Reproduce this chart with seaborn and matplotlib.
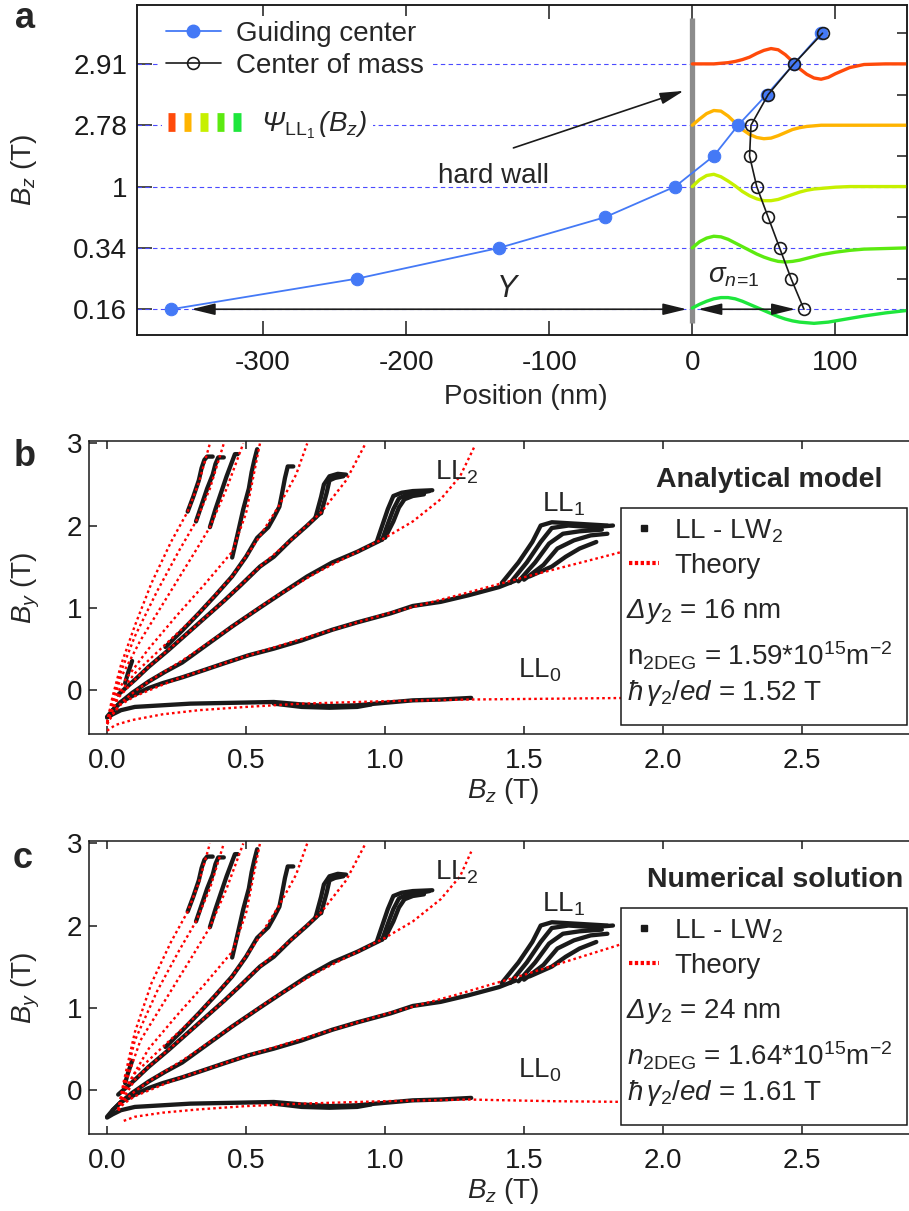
import numpy as np
import pandas as pd
import matplotlib
matplotlib.use('Agg')
import matplotlib.pyplot as plt
import matplotlib.transforms as mtransforms
import seaborn as sns
from matplotlib.lines import Line2D
from matplotlib.legend_handler import HandlerTuple
from matplotlib.patches import Rectangle

sns.set_theme(style='white')
plt.rcParams['font.family'] = ['Liberation Sans', 'DejaVu Sans']
plt.rcParams['mathtext.fontset'] = 'custom'
plt.rcParams['mathtext.rm'] = 'Liberation Sans'
plt.rcParams['mathtext.it'] = 'Liberation Sans:italic'
plt.rcParams['mathtext.bf'] = 'Liberation Sans:bold'
plt.rcParams['axes.unicode_minus'] = False

# ------------------------------------------------------------------ panel a data
level_labels = ['0.16', '0.34', '1', '2.78', '2.91']
level_pos = [0, 1, 2, 3, 4]
half_levels = [0.5, 1.5, 2.5, 3.5, 4.5]

gc_pos = [-364, -234, -135, -61, -12, 15, 32, 52, 71, 90]
gc_level = [0, 0.5, 1, 1.5, 2, 2.5, 3, 3.5, 4, 4.5]
com_pos = [78, 69, 61, 53, 45, 40, 41, 53, 71, 91]
com_level = [0, 0.5, 1, 1.5, 2, 2.5, 3, 3.5, 4, 4.5]

wave_x = [0, 5, 10, 15, 20, 25, 30, 35, 40, 45, 50, 55, 60, 65, 70, 75, 80,
          85, 90, 95, 100, 110, 120, 135, 150]
psi_291 = [0, 0, 0, 0, 0.01, 0.02, 0.04, 0.07, 0.11, 0.17, 0.22, 0.25, 0.23, 0.15,
           0.04, -0.08, -0.17, -0.23, -0.25, -0.22, -0.16, -0.06, -0.01, 0, 0]
psi_278 = [0, 0.1, 0.19, 0.24, 0.23, 0.15, 0.04, -0.07, -0.15, -0.2, -0.22, -0.21,
           -0.17, -0.12, -0.07, -0.04, -0.02, -0.01, 0, 0, 0, 0, 0, 0, 0]
psi_100 = [0, 0.11, 0.18, 0.2, 0.16, 0.09, 0.01, -0.08, -0.15, -0.2, -0.23, -0.23,
           -0.21, -0.17, -0.13, -0.09, -0.06, -0.04, -0.03, -0.02, -0.01, 0, 0, 0, 0]
psi_034 = [0, 0.1, 0.16, 0.19, 0.18, 0.14, 0.08, 0.02, -0.04, -0.1, -0.15, -0.19,
           -0.22, -0.23, -0.22, -0.2, -0.17, -0.14, -0.11, -0.09, -0.07, -0.04,
           -0.02, -0.01, 0]
psi_016 = [0.02, 0.08, 0.13, 0.17, 0.19, 0.19, 0.17, 0.13, 0.08, 0.03, -0.02, -0.07,
           -0.12, -0.16, -0.19, -0.21, -0.22, -0.23, -0.22, -0.21, -0.19, -0.15,
           -0.11, -0.06, -0.02]
wave_colors = ['#1EE63C', '#5CEA10', '#C6F000', '#FFB400', '#FF4A0A']

# ------------------------------------------------------------------ panel b/c experimental traces
ll0_bz = [0.0, 0.02, 0.05, 0.1, 0.2, 0.3, 0.45, 0.6, 0.7, 0.8, 0.9, 1.0, 1.1, 1.2, 1.31]
ll0_by = [-0.34, -0.3, -0.25, -0.21, -0.19, -0.17, -0.16, -0.15, -0.18, -0.2, -0.19,
          -0.16, -0.13, -0.12, -0.1]
ll0b_bz = [0.6, 0.7, 0.8, 0.9, 0.95]
ll0b_by = [-0.17, -0.21, -0.22, -0.21, -0.18]
ll1_bz = [0.0, 0.02, 0.05, 0.1, 0.15, 0.2, 0.27, 0.35, 0.42, 0.51, 0.6, 0.7, 0.81,
          0.9, 1.02, 1.1, 1.2, 1.3, 1.41, 1.47]
ll1_by = [-0.33, -0.25, -0.15, -0.06, 0.02, 0.08, 0.15, 0.24, 0.32, 0.42, 0.5, 0.6,
          0.73, 0.82, 0.93, 1.02, 1.07, 1.15, 1.25, 1.33]
ll1a_bz = [1.42, 1.48, 1.53, 1.56, 1.6, 1.7, 1.8]
ll1a_by = [1.3, 1.55, 1.8, 2.0, 2.04, 2.02, 2.0]
ll1b_bz = [1.45, 1.51, 1.56, 1.6, 1.66, 1.75, 1.82]
ll1b_by = [1.3, 1.55, 1.8, 1.97, 2.0, 1.98, 2.0]
ll1c_bz = [1.48, 1.54, 1.59, 1.64, 1.7, 1.78]
ll1c_by = [1.32, 1.55, 1.78, 1.9, 1.93, 1.95]
ll1d_bz = [1.5, 1.57, 1.62, 1.68, 1.74, 1.8]
ll1d_by = [1.34, 1.52, 1.72, 1.82, 1.88, 1.9]
ll1e_bz = [1.52, 1.6, 1.65, 1.7, 1.76]
ll1e_by = [1.38, 1.5, 1.62, 1.72, 1.8]
ll2_bz = [0.02, 0.05, 0.09, 0.15, 0.21, 0.27, 0.36, 0.45, 0.55, 0.63, 0.72, 0.81, 0.9, 0.99]
ll2_by = [-0.25, -0.15, -0.04, 0.1, 0.22, 0.33, 0.55, 0.77, 1.0, 1.18, 1.38, 1.55, 1.68, 1.83]
ll2a_bz = [0.97, 0.99, 1.01, 1.03, 1.06, 1.1, 1.17]
ll2a_by = [1.8, 2.0, 2.2, 2.36, 2.4, 2.42, 2.43]
ll2b_bz = [0.99, 1.01, 1.03, 1.05, 1.08, 1.13, 1.16]
ll2b_by = [1.83, 2.02, 2.2, 2.33, 2.38, 2.4, 2.42]
ll2c_bz = [1.0, 1.03, 1.05, 1.07, 1.1, 1.14]
ll2c_by = [1.85, 2.05, 2.22, 2.32, 2.36, 2.38]
t3_bz = [0.04, 0.1, 0.15, 0.22, 0.3, 0.36, 0.42, 0.48, 0.55, 0.6, 0.66, 0.72, 0.77]
t3_by = [-0.06, 0.12, 0.28, 0.48, 0.72, 0.9, 1.08, 1.27, 1.5, 1.62, 1.82, 2.0, 2.16]
t3a_bz = [0.75, 0.77, 0.78, 0.8, 0.83, 0.86]
t3a_by = [2.1, 2.35, 2.5, 2.6, 2.63, 2.62]
t3b_bz = [0.77, 0.79, 0.8, 0.82, 0.85]
t3b_by = [2.15, 2.4, 2.55, 2.58, 2.6]
ta_bz = [0.21, 0.27, 0.33, 0.39, 0.45, 0.5, 0.54, 0.58, 0.6, 0.62, 0.63, 0.64, 0.65, 0.67]
ta_by = [0.52, 0.72, 0.93, 1.15, 1.38, 1.62, 1.85, 1.98, 2.1, 2.23, 2.4, 2.58, 2.72, 2.72]
s1_bz = [0.29, 0.31, 0.33, 0.34, 0.35, 0.36, 0.38]
s1_by = [2.17, 2.35, 2.55, 2.7, 2.8, 2.84, 2.84]
s2_bz = [0.32, 0.34, 0.36, 0.38, 0.39, 0.4, 0.42]
s2_by = [2.05, 2.25, 2.45, 2.62, 2.75, 2.83, 2.83]
s3_bz = [0.37, 0.39, 0.41, 0.43, 0.45, 0.46, 0.47]
s3_by = [1.98, 2.2, 2.4, 2.6, 2.78, 2.87, 2.87]
s4_bz = [0.45, 0.47, 0.49, 0.51, 0.52, 0.53, 0.54]
s4_by = [1.61, 1.9, 2.2, 2.45, 2.65, 2.8, 2.93]
sm_bz = [0.065, 0.075, 0.085, 0.09]
sm_by = [0.08, 0.2, 0.3, 0.35]

# ------------------------------------------------------------------ theory curves, panel b
thb_ll0_bz = [0.0, 0.03, 0.09, 0.2, 0.33, 0.5, 0.7, 1.0, 1.3, 1.6, 1.9, 2.2, 2.5, 2.88]
thb_ll0_by = [-0.5, -0.43, -0.37, -0.3, -0.25, -0.21, -0.17, -0.14, -0.12, -0.11,
              -0.1, -0.1, -0.09, -0.09]
thb_ll1_bz = [0.0, 0.02, 0.05, 0.1, 0.25, 0.5, 0.75, 1.0, 1.25, 1.5, 1.82, 2.2]
thb_ll1_by = [-0.42, -0.3, -0.18, -0.08, 0.13, 0.41, 0.67, 0.92, 1.14, 1.37, 1.65, 2.0]
thb_ll2_bz = [0.0, 0.02, 0.05, 0.1, 0.15, 0.3, 0.45, 0.6, 0.75, 0.9, 1.0, 1.1, 1.2, 1.27, 1.32]
thb_ll2_by = [-0.42, -0.3, -0.16, -0.02, 0.1, 0.42, 0.77, 1.12, 1.42, 1.68, 1.85,
              2.05, 2.32, 2.6, 2.95]
thb_t3_bz = [0.0, 0.02, 0.04, 0.1, 0.15, 0.3, 0.42, 0.55, 0.66, 0.77, 0.86, 0.93]
thb_t3_by = [-0.4, -0.25, -0.1, 0.12, 0.28, 0.72, 1.08, 1.5, 1.82, 2.16, 2.55, 3.0]
thb_ta_bz = [0.0, 0.02, 0.05, 0.1, 0.2, 0.33, 0.45, 0.54, 0.62, 0.68, 0.72]
thb_ta_by = [-0.4, -0.22, -0.02, 0.2, 0.52, 0.93, 1.38, 1.82, 2.25, 2.62, 3.0]
thb_s4_bz = [0.0, 0.02, 0.05, 0.15, 0.25, 0.35, 0.45, 0.5, 0.55]
thb_s4_by = [-0.4, -0.2, 0.05, 0.5, 0.9, 1.28, 1.68, 2.15, 3.0]
thb_s3_bz = [0.0, 0.02, 0.05, 0.12, 0.22, 0.32, 0.37, 0.43, 0.49]
thb_s3_by = [-0.4, -0.15, 0.15, 0.6, 1.15, 1.7, 1.98, 2.45, 3.0]
thb_s2_bz = [0.0, 0.02, 0.05, 0.1, 0.18, 0.26, 0.32, 0.37, 0.42]
thb_s2_by = [-0.4, -0.12, 0.22, 0.65, 1.2, 1.7, 2.05, 2.45, 3.0]
thb_s1_bz = [0.0, 0.02, 0.05, 0.1, 0.16, 0.23, 0.29, 0.33, 0.37]
thb_s1_by = [-0.4, -0.08, 0.3, 0.78, 1.3, 1.8, 2.17, 2.52, 3.0]

# ------------------------------------------------------------------ theory curves, panel c
thc_ll0_bz = [0.06, 0.1, 0.2, 0.33, 0.5, 0.7, 1.0, 1.3, 1.6, 1.9, 2.2, 2.5, 2.88]
thc_ll0_by = [-0.38, -0.33, -0.28, -0.24, -0.2, -0.17, -0.14, -0.12, -0.14, -0.15,
              -0.16, -0.17, -0.18]
thc_ll1_bz = [0.04, 0.06, 0.1, 0.25, 0.5, 0.75, 1.0, 1.25, 1.5, 1.82, 2.1]
thc_ll1_by = [-0.25, -0.17, -0.08, 0.13, 0.41, 0.67, 0.92, 1.15, 1.4, 1.74, 2.05]
thc_ll2_bz = [0.04, 0.06, 0.1, 0.15, 0.3, 0.45, 0.6, 0.75, 0.9, 1.0, 1.1, 1.2, 1.27, 1.31]
thc_ll2_by = [-0.25, -0.14, -0.02, 0.1, 0.42, 0.77, 1.12, 1.42, 1.68, 1.85, 2.05,
              2.32, 2.6, 2.9]
thc_t3_bz = [0.04, 0.06, 0.1, 0.15, 0.3, 0.42, 0.55, 0.66, 0.77, 0.86, 0.93]
thc_t3_by = [-0.25, -0.1, 0.12, 0.28, 0.72, 1.08, 1.5, 1.82, 2.16, 2.55, 3.0]
thc_ta_bz = [0.04, 0.06, 0.1, 0.2, 0.33, 0.45, 0.54, 0.62, 0.68, 0.72]
thc_ta_by = [-0.25, -0.05, 0.2, 0.52, 0.93, 1.38, 1.82, 2.25, 2.62, 3.0]
thc_s4_bz = [0.04, 0.06, 0.15, 0.25, 0.35, 0.45, 0.5, 0.55]
thc_s4_by = [-0.25, -0.02, 0.5, 0.9, 1.28, 1.68, 2.15, 3.0]
thc_s3_bz = [0.04, 0.06, 0.12, 0.22, 0.32, 0.37, 0.43, 0.49]
thc_s3_by = [-0.25, 0.02, 0.6, 1.15, 1.7, 1.98, 2.45, 3.0]
thc_s2_bz = [0.04, 0.06, 0.1, 0.18, 0.26, 0.32, 0.37, 0.42]
thc_s2_by = [-0.25, 0.05, 0.6, 1.2, 1.7, 2.05, 2.45, 3.0]
thc_s1_bz = [0.04, 0.06, 0.1, 0.16, 0.23, 0.29, 0.33, 0.37]
thc_s1_by = [-0.25, 0.1, 0.7, 1.3, 1.8, 2.17, 2.52, 3.0]

bc_xticks = [0.0, 0.5, 1.0, 1.5, 2.0, 2.5]
bc_xticklabels = ['0.0', '0.5', '1.0', '1.5', '2.0', '2.5']
bc_yticks = [0, 1, 2, 3]
a_xticks = [-300, -200, -100, 0, 100]


def traces_frame(traces):
    rows = []
    for name, (xs, ys) in traces.items():
        for i, (x, y) in enumerate(zip(xs, ys)):
            rows.append((name, i, x, y))
    return pd.DataFrame(rows, columns=['trace', 'i', 'Bz', 'By'])


exp_df = traces_frame({
    'll0': (ll0_bz, ll0_by), 'll0b': (ll0b_bz, ll0b_by),
    'll1': (ll1_bz, ll1_by), 'll1a': (ll1a_bz, ll1a_by), 'll1b': (ll1b_bz, ll1b_by),
    'll1c': (ll1c_bz, ll1c_by), 'll1d': (ll1d_bz, ll1d_by), 'll1e': (ll1e_bz, ll1e_by),
    'll2': (ll2_bz, ll2_by), 'll2a': (ll2a_bz, ll2a_by), 'll2b': (ll2b_bz, ll2b_by),
    'll2c': (ll2c_bz, ll2c_by), 't3': (t3_bz, t3_by), 't3a': (t3a_bz, t3a_by),
    't3b': (t3b_bz, t3b_by), 'ta': (ta_bz, ta_by), 's1': (s1_bz, s1_by),
    's2': (s2_bz, s2_by), 's3': (s3_bz, s3_by), 's4': (s4_bz, s4_by),
    'sm': (sm_bz, sm_by)})
thb_df = traces_frame({
    'll0': (thb_ll0_bz, thb_ll0_by), 'll1': (thb_ll1_bz, thb_ll1_by),
    'll2': (thb_ll2_bz, thb_ll2_by), 't3': (thb_t3_bz, thb_t3_by),
    'ta': (thb_ta_bz, thb_ta_by), 's4': (thb_s4_bz, thb_s4_by),
    's3': (thb_s3_bz, thb_s3_by), 's2': (thb_s2_bz, thb_s2_by),
    's1': (thb_s1_bz, thb_s1_by)})
thc_df = traces_frame({
    'll0': (thc_ll0_bz, thc_ll0_by), 'll1': (thc_ll1_bz, thc_ll1_by),
    'll2': (thc_ll2_bz, thc_ll2_by), 't3': (thc_t3_bz, thc_t3_by),
    'ta': (thc_ta_bz, thc_ta_by), 's4': (thc_s4_bz, thc_s4_by),
    's3': (thc_s3_bz, thc_s3_by), 's2': (thc_s2_bz, thc_s2_by),
    's1': (thc_s1_bz, thc_s1_by)})

FS = 20
W, H = 909, 1211
fig = plt.figure(figsize=(W / 100, H / 100), dpi=100)
ax_a = fig.add_axes([137 / W, 1 - 335 / H, 770 / W, 330 / H])
ax_b = fig.add_axes([89 / W, 1 - 734 / H, 820 / W, 293 / H])
ax_c = fig.add_axes([89 / W, 1 - 1134 / H, 820 / W, 293 / H])

# ================================================================== panel a
ax = ax_a
ax.set_xlim(-388, 150)
ax.set_ylim(-0.42, 4.96)
for lv in level_pos:
    ax.axhline(lv, color='#4B4BFF', lw=0.8, ls=(0, (4, 3)), zorder=1)
ax.plot([0, 0], [-0.23, 4.75], color='#8C8C8C', lw=3.8, solid_capstyle='butt', zorder=2)
psis = [psi_016, psi_034, psi_100, psi_278, psi_291]
for lv, psi, col in zip(level_pos, psis, wave_colors):
    wdf = pd.DataFrame({'x': wave_x, 'y': np.asarray(psi) + lv})
    sns.lineplot(data=wdf, x='x', y='y', sort=False, estimator=None, color=col, lw=2.4,
                 ax=ax, zorder=3, legend=False)
gc_df = pd.DataFrame({'pos': gc_pos, 'lev': gc_level})
com_df = pd.DataFrame({'pos': com_pos, 'lev': com_level})
blue = '#4479F6'
sns.lineplot(data=gc_df, x='pos', y='lev', sort=False, estimator=None, color=blue, lw=1.3,
             marker='o', markersize=9, markeredgecolor=blue, ax=ax, zorder=4, legend=False)
sns.lineplot(data=com_df, x='pos', y='lev', sort=False, estimator=None, color='k', lw=1.2,
             marker='o', markersize=8.5, markerfacecolor='none', markeredgecolor='k',
             markeredgewidth=1.2, ax=ax, zorder=5, legend=False)

arrow_kw = dict(color='k', lw=1.2, mutation_scale=16, shrinkA=0, shrinkB=0)
ax.annotate('', xy=(-4, 0), xytext=(-350, 0),
            arrowprops=dict(arrowstyle='<|-|>,head_length=0.9,head_width=0.22', **arrow_kw),
            zorder=6)
ax.annotate('', xy=(72, 0), xytext=(4, 0),
            arrowprops=dict(arrowstyle='<|-|>,head_length=0.9,head_width=0.22', **arrow_kw),
            zorder=6)
ax.annotate('', xy=(-6, 3.56), xytext=(-125, 2.63),
            arrowprops=dict(arrowstyle='-|>,head_length=0.9,head_width=0.22', **arrow_kw),
            zorder=6)
ax.text(-178, 2.06, 'hard wall', fontsize=FS, ha='left', va='baseline', zorder=6)
ax.text(-129, 0.2, r'$Y$', fontsize=FS + 2, ha='center', va='baseline', zorder=6)
ax.text(11, 0.44, r'$\sigma_{n\!=\!1}$', fontsize=FS, ha='left', va='baseline', zorder=6)

h_gc = Line2D([], [], color=blue, lw=1.3, marker='o', ms=9, mec=blue)
h_com = Line2D([], [], color='k', lw=1.2, marker='o', ms=8.5, mfc='none', mec='k', mew=1.2)
leg1 = ax.legend([h_gc, h_com], ['Guiding center', 'Center of mass'], loc='upper left',
                 bbox_to_anchor=(0.030, 0.968), borderaxespad=0, borderpad=0.2,
                 labelspacing=0.2, handlelength=2.0, handletextpad=0.55, fontsize=FS,
                 frameon=True, facecolor='white', edgecolor='none', framealpha=1,
                 fancybox=False)
leg1.set_zorder(7)
ax.add_artist(leg1)
bars = tuple(Line2D([], [], color=c, lw=13.5, solid_capstyle='butt')
             for c in ['#FF4A0A', '#FFB400', '#C6F000', '#5CEA10', '#1EE63C'])
leg2 = ax.legend([bars], [r'Ψ$_{\mathrm{LL}_1}\,$($B_z$)'],
                 handler_map={tuple: HandlerTuple(ndivide=None, pad=0.32)},
                 loc='center left', bbox_to_anchor=(0.0325, 0.636), borderaxespad=0,
                 borderpad=0.2, handlelength=2.63, handletextpad=0.75, fontsize=FS,
                 frameon=True, facecolor='white', edgecolor='none', framealpha=1,
                 fancybox=False)
leg2.get_texts()[0].set_fontstyle('italic')
leg2.set_zorder(7)

ax.set_yticks(level_pos)
ax.set_yticklabels(level_labels)
ax.set_xticks(a_xticks)
ax.set_xticklabels([str(v) for v in a_xticks])
ax.tick_params(axis='x', direction='in', length=10, width=1.1, top=True, bottom=True,
               labelsize=FS, pad=11, colors='k')
ax.tick_params(axis='y', direction='in', length=11, width=1.1, left=True, right=False,
               labelsize=FS, pad=7, colors='k')
ax_r = ax.twinx()
ax_r.set_ylim(ax.get_ylim())
ax_r.set_yticks(half_levels)
ax_r.tick_params(axis='y', direction='in', length=7, width=1.1, right=True,
                 labelright=False, colors='k')
for a_ in (ax, ax_r):
    for sp in a_.spines.values():
        sp.set_color('k')
        sp.set_linewidth(1.1)
ax.set_xlabel('Position (nm)', fontsize=FS)
ax.xaxis.set_label_coords(0.505, -0.150)
ax.set_ylabel(r'$B_z$ (T)', fontsize=FS)
ax.yaxis.set_label_coords(-0.127, 0.5)


# ================================================================== panels b, c
def draw_bc(ax, th_df, title, title_x, dy_val, nlab, gam):
    sns.lineplot(data=exp_df, x='Bz', y='By', units='trace', estimator=None, sort=False,
                 color='k', lw=3.1, ax=ax, legend=False, zorder=2)
    sns.lineplot(data=th_df, x='Bz', y='By', units='trace', estimator=None, sort=False,
                 color='#FF0000', lw=1.7, linestyle=(0, (1.1, 1.3)), ax=ax,
                 legend=False, zorder=3)
    ax.set_xlim(-0.065, 2.885)
    ax.set_ylim(-0.54, 3.03)
    ax.set_xticks(bc_xticks)
    ax.set_xticklabels(bc_xticklabels)
    ax.set_yticks(bc_yticks)
    ax.set_yticklabels([str(v) for v in bc_yticks])
    ax.tick_params(axis='x', direction='in', length=6, width=1.1, top=True, bottom=True,
                   labelsize=FS, pad=10, colors='k')
    ax.tick_params(axis='y', direction='in', length=6, width=1.1, left=True, right=False,
                   labelsize=FS, pad=5, colors='k')
    for name, sp in ax.spines.items():
        sp.set_color('k')
        sp.set_linewidth(1.1)
    ax.spines['right'].set_visible(False)
    ax.set_xlabel(r'$B_z$ (T)', fontsize=FS)
    ax.xaxis.set_label_coords(0.505, -0.143)
    ax.set_ylabel(r'$B_y$ (T)', fontsize=FS)
    ax.yaxis.set_label_coords(-0.057, 0.5)

    ax.text(1.18, 2.56, r'LL$_2$', fontsize=FS, ha='left', va='baseline')
    ax.text(1.565, 2.17, r'LL$_1$', fontsize=FS, ha='left', va='baseline')
    ax.text(1.478, 0.146, r'LL$_0$', fontsize=FS, ha='left', va='baseline')
    ax.text(title_x, 0.867, title, transform=ax.transAxes, fontsize=FS + 0.5,
            weight='bold', ha='right', va='center')
    ax.add_patch(Rectangle((0.649, 0.03), 0.9976 - 0.649, 0.74, transform=ax.transAxes,
                           facecolor='white', edgecolor='k', lw=1.1, zorder=5))
    h_exp = Line2D([], [], ls='none', marker='s', ms=4, color='k')
    h_th = Line2D([], [], color='#FF0000', lw=3, ls=(0, (0.8, 0.6)))
    lg = ax.legend([h_exp, h_th], [r'LL - LW$_2$', 'Theory'], loc='upper left',
                   bbox_to_anchor=(0.6585, 0.74), borderaxespad=0, borderpad=0,
                   labelspacing=0.3, handlelength=1.08, handletextpad=0.55,
                   fontsize=FS, frameon=False)
    lg.set_zorder(6)
    # "Δy2 = .. nm" : italic capital delta as plain italic text, rest right after it
    t_delta = ax.text(0.656, 0.395, 'Δ', transform=ax.transAxes, fontsize=FS,
                      fontstyle='italic', ha='left', va='baseline', zorder=6)
    fig.canvas.draw()
    wpx = t_delta.get_window_extent().width
    tr = mtransforms.offset_copy(ax.transAxes, fig=fig, x=wpx - 1, y=0, units='dots')
    ax.text(0.656, 0.395, r'$y_2$ = ' + dy_val, transform=tr, fontsize=FS, ha='left',
            va='baseline', zorder=6)
    ax.text(0.656, 0.266, nlab, transform=ax.transAxes, fontsize=FS, ha='left',
            va='center', zorder=6)
    ax.text(0.656, 0.140, gam, transform=ax.transAxes, fontsize=FS, ha='left',
            va='center', zorder=6)


draw_bc(ax_b, thb_df, 'Analytical model', 0.968, '16 nm',
        r'n$_{\mathrm{2DEG}}$ = 1.59*10$^{15}$m$^{-2}$', r'$\hbar\,\gamma_2/ed$ = 1.52 T')
draw_bc(ax_c, thc_df, 'Numerical solution', 0.993, '24 nm',
        r'$n_{\mathrm{2DEG}}$ = 1.64*10$^{15}$m$^{-2}$', r'$\hbar\,\gamma_2/ed$ = 1.61 T')

fig.text(25 / W, 1 - 18 / H, 'a', fontsize=26, weight='bold', ha='center', va='center')
fig.text(25 / W, 1 - 457 / H, 'b', fontsize=26, weight='bold', ha='center', va='center')
fig.text(23 / W, 1 - 859 / H, 'c', fontsize=26, weight='bold', ha='center', va='center')

fig.savefig('out.png', dpi=100)
